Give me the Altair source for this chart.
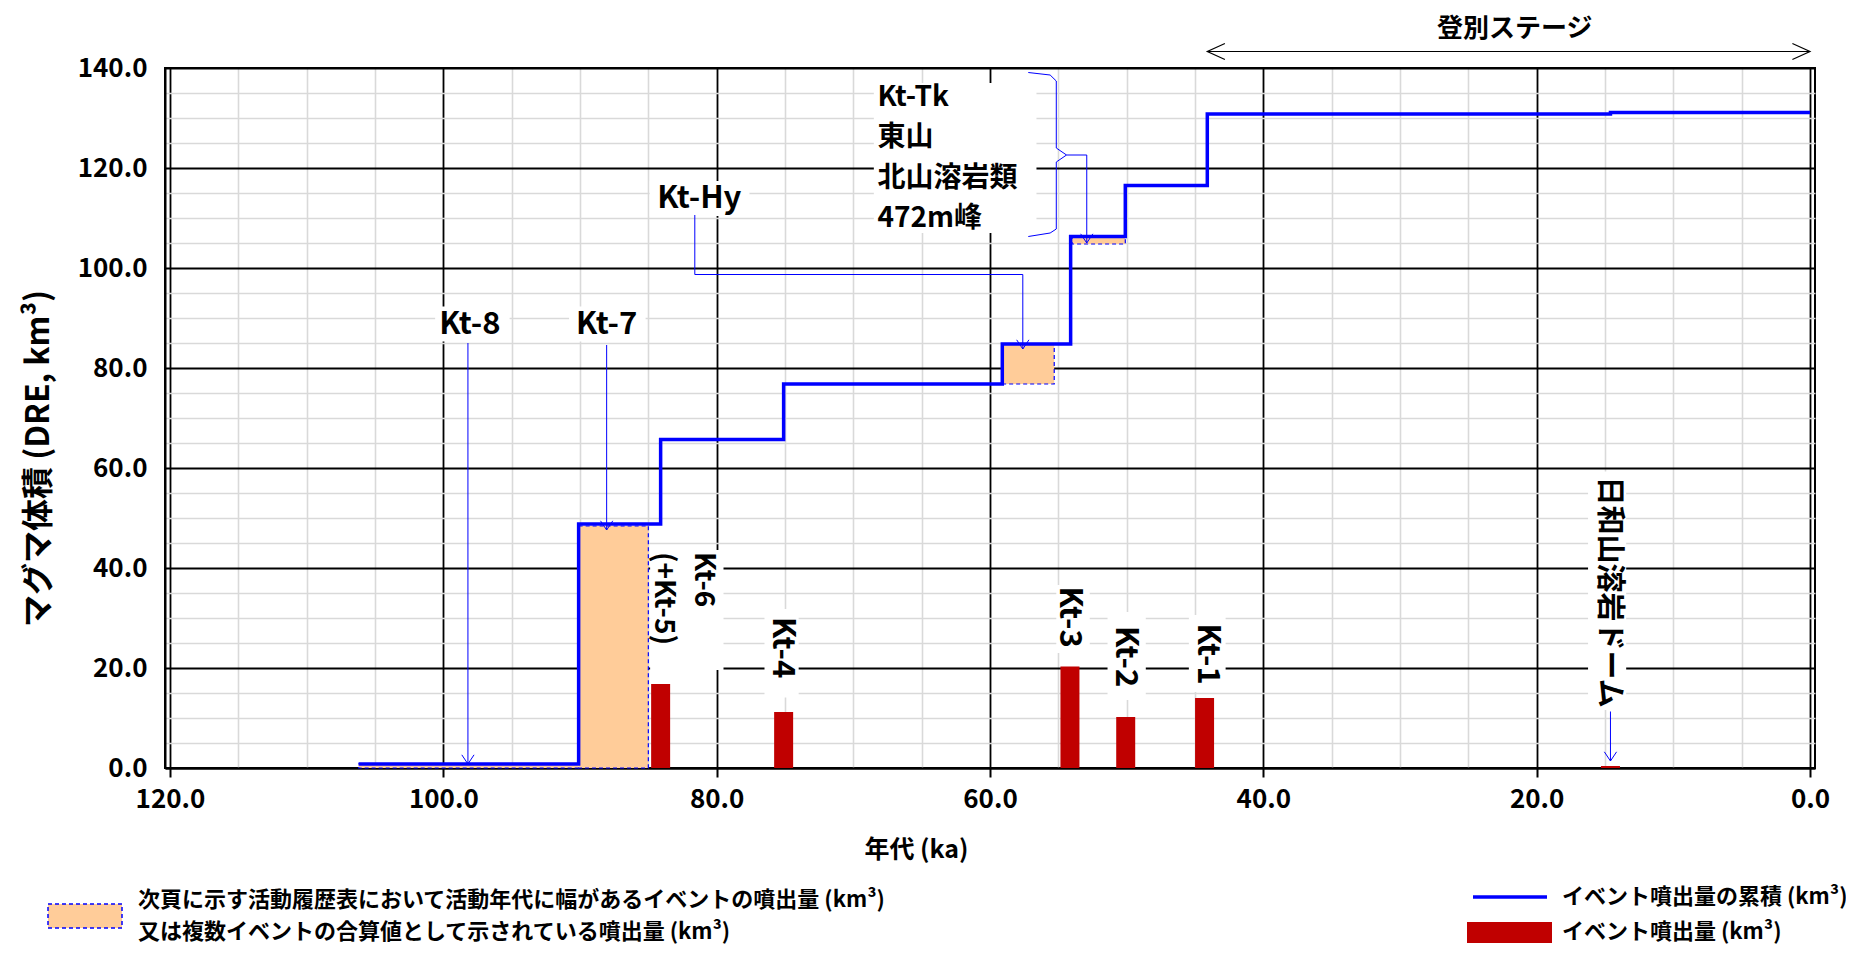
import altair as alt
import pandas as pd

FONT = "Noto Sans CJK JP"
BLUE = "#0000ff"
RED = "#c00000"
ORANGE = "#ffcc99"

# ---- cumulative erupted volume (step line) ----
step_age = [106.2, 90.1, 84.1, 75.1, 59.1, 54.1, 50.1, 44.1, 14.6, 0.0]
step_cum = [0.8, 48.8, 65.7, 76.8, 84.8, 106.3, 116.5, 130.8, 131.1, 131.1]

# ---- single events (red bars) ----
event_name = ["Kt-6", "Kt-4", "Kt-3", "Kt-2", "Kt-1", "日和山溶岩ドーム"]
event_age = [84.1, 75.1, 54.15, 50.07, 44.3, 14.6]
event_vol = [16.8, 11.2, 20.3, 10.2, 14.0, 0.4]

# ---- events with an age range / combined volumes (orange boxes) ----
range_name = ["Kt-8", "Kt-7", "Kt-Hy", "Kt-Tk"]
range_old = [106.2, 90.1, 59.1, 54.0]
range_young = [90.1, 85.0, 55.3, 50.1]
range_low = [0.0, 0.0, 76.8, 104.8]
range_high = [0.8, 48.4, 84.8, 106.3]

# ---- annotation labels ----
flat_label = ["Kt-8", "Kt-7", "Kt-Hy"]
flat_age = [98.06, 88.05, 81.27]
flat_v = [88.6, 88.6, 113.9]

block_label = ["Kt-Tk\n東山\n北山溶岩類\n472m峰"]
block_age = [68.24]
block_v = [134.1]

rot_label = ["Kt-6\n(+Kt-5)", "Kt-4", "Kt-3", "Kt-2", "Kt-1", "日和山溶岩ドーム"]
rot_age = [80.97, 75.24, 54.2, 50.1, 44.1, 14.7]
rot_v = [43.2, 30.2, 36.3, 28.4, 28.9, 58.3]
rot_size = [28, 31, 31, 31, 31, 29]

# white text boxes behind the annotation labels (age old -> young, value top -> bottom)
box_name = ["Kt-8", "Kt-7", "Kt-Hy", "Kt-Tk", "Kt-6", "Kt-4", "Kt-3", "Kt-2", "Kt-1", "日和山"]
box_old = [100.6, 90.8, 84.9, 68.5, 84.87, 76.5, 55.15, 51.4, 45.45, 16.24]
box_young = [95.15, 85.2, 77.6, 56.6, 79.5, 74.0, 52.7, 48.6, 42.76, 13.45]
box_top = [92.3, 92.3, 117.4, 137.0, 43.6, 31.8, 36.6, 31.2, 30.6, 59.3]
box_bottom = [85.3, 85.3, 110.4, 107.0, 19.6, 14.1, 23.0, 13.6, 15.2, 11.6]

# ---- leader arrows ----
arrow_id = ["Kt-8", "Kt-8", "Kt-7", "Kt-7",
            "Kt-Hy", "Kt-Hy", "Kt-Hy", "Kt-Hy",
            "Kt-Tk", "Kt-Tk", "Kt-Tk",
            "日和山", "日和山"]
arrow_age = [98.2, 98.2, 88.05, 88.05,
             81.6, 81.6, 57.6, 57.6,
             54.4, 52.92, 52.92,
             14.6, 14.6]
arrow_v = [85.0, 0.8, 84.6, 47.6,
           110.6, 98.7, 98.7, 83.8,
           122.6, 122.6, 105.0,
           11.3, 1.4]

# ---- brace ----
brace_age = [57.2, 55.6, 55.15, 55.15, 54.4, 55.15, 55.15, 55.6, 57.2]
brace_v = [139.1, 138.6, 137.4, 124.0, 122.6, 121.2, 107.8, 107.0, 106.3]

# ---- stage ----
stage_label = "登別ステージ"
stage_start = 44.1
stage_end = 0.0
stage_v = 143.3
stage_label_age = 21.6
stage_label_v = 147.8

# ---- legend texts ----
legend_range_lines = ["次頁に示す活動履歴表において活動年代に幅があるイベントの噴出量 (km³)",
                      "又は複数イベントの合算値として示されている噴出量 (km³)"]
legend_cum = "イベント噴出量の累積 (km³)"
legend_event = "イベント噴出量 (km³)"

x_title = "年代 (ka)"
y_title = "マグマ体積 (DRE, km³)"

# ---------------- tables ----------------
steps = pd.DataFrame({"age": step_age, "v": step_cum})
events = pd.DataFrame({"name": event_name, "age": event_age, "v": event_vol})
ranges = pd.DataFrame({"name": range_name, "age": range_old, "age2": range_young,
                       "v": range_low, "v2": range_high})
boxes = pd.DataFrame({"name": box_name, "age": box_old, "age2": box_young,
                      "v": box_top, "v2": box_bottom})
arrows = pd.DataFrame({"id": arrow_id, "seq": list(range(len(arrow_id))),
                       "age": arrow_age, "v": arrow_v})
heads = arrows.groupby("id", sort=False).last().reset_index()
brace = pd.DataFrame({"seq": list(range(len(brace_age))), "age": brace_age, "v": brace_v})
stage = pd.DataFrame({"age": [stage_start], "age2": [stage_end], "v": [stage_v]})
stage_text = pd.DataFrame({"label": [stage_label], "age": [stage_label_age], "v": [stage_label_v]})
flat = pd.DataFrame({"label": flat_label, "age": flat_age, "v": flat_v})
block = pd.DataFrame({"label": block_label, "age": block_age, "v": block_v})
rot = pd.DataFrame({"label": rot_label, "age": rot_age, "v": rot_v, "size": rot_size})

# ---------------- scales & axes ----------------
major = "datum.value % 20 === 0"
x_scale = alt.Scale(domain=[0, 120], reverse=True, nice=False, zero=False)
y_scale = alt.Scale(domain=[0, 140], nice=False)

x_axis = alt.Axis(
    values=list(range(0, 121, 5)),
    labelExpr=f"{major} ? format(datum.value, '.1f') : ''",
    grid=True,
    gridColor={"condition": {"test": major, "value": "#000000"}, "value": "#d9d9d9"},
    gridWidth={"condition": {"test": major, "value": 1.8}, "value": 1.6},
    ticks=True, tickColor="#000000", tickWidth=2, tickSize=9,
    tickOpacity={"condition": {"test": major, "value": 1}, "value": 0},
    domain=True, domainColor="#000000", domainWidth=2,
    labelFont=FONT, labelFontSize=26, labelFontWeight="bold", labelColor="#000000",
    labelPadding=9, labelFlush=False, labelOverlap=False,
    title=x_title, titleFont=FONT, titleFontSize=25, titleFontWeight="bold",
    titleColor="#000000", titleX=751, titleY=81, titleAlign="center",
    titleBaseline="middle", titleAngle=0,
)
y_axis = alt.Axis(
    values=list(range(0, 141, 5)),
    labelExpr=f"{major} ? format(datum.value, '.1f') : ''",
    grid=True,
    gridColor={"condition": {"test": major, "value": "#000000"}, "value": "#d9d9d9"},
    gridWidth={"condition": {"test": major, "value": 1.8}, "value": 1.6},
    ticks=False, tickSize=0,
    domain=True, domainColor="#000000", domainWidth=2,
    labelFont=FONT, labelFontSize=26, labelFontWeight="bold", labelColor="#000000",
    labelPadding=18, labelFlush=False, labelOverlap=False,
    title=y_title, titleFont=FONT, titleFontSize=32, titleFontWeight="bold",
    titleColor="#000000", titleX=-127, titleY=390, titleAlign="center",
    titleBaseline="middle", titleAngle=270,
)

X = lambda: alt.X("age:Q", scale=x_scale, axis=x_axis)
Y = lambda: alt.Y("v:Q", scale=y_scale, axis=y_axis)

layers = []

# orange range boxes
layers.append(alt.Chart(ranges).mark_rect(
    fill=ORANGE, stroke=BLUE, strokeDash=[4, 3], strokeWidth=1.2
).encode(x=X(), x2="age2:Q", y=Y(), y2="v2:Q"))

# white label boxes
layers.append(alt.Chart(boxes).mark_rect(fill="#ffffff", strokeWidth=0).encode(
    x=X(), x2="age2:Q", y=Y(), y2="v2:Q"))

# red bars
layers.append(alt.Chart(events).mark_bar(color=RED, size=19).encode(x=X(), y=Y()))

# cumulative step line
layers.append(alt.Chart(steps).mark_line(
    color=BLUE, strokeWidth=3.5, interpolate="step-after"
).encode(x=X(), y=Y(), order=alt.Order("age:Q", sort="descending")))

# leader arrows
layers.append(alt.Chart(arrows).mark_line(color=BLUE, strokeWidth=1).encode(
    x=X(), y=Y(), detail="id:N", order="seq:Q"))
layers.append(alt.Chart(heads).mark_point(
    shape="M-1,-1.5L0,0L1,-1.5", filled=False, stroke=BLUE, strokeWidth=1,
    size=150, opacity=1
).encode(x=X(), y=Y()))

# brace
layers.append(alt.Chart(brace).mark_line(color=BLUE, strokeWidth=1).encode(
    x=X(), y=Y(), order="seq:Q"))

# stage double arrow
layers.append(alt.Chart(stage).mark_rule(color="#000000", strokeWidth=1.2).encode(
    x=X(), x2="age2:Q", y=Y()))
layers.append(alt.Chart(stage).mark_point(
    shape="M2.2,-1L0,0L2.2,1", filled=False, stroke="#000000", strokeWidth=1.2,
    size=256, opacity=1
).encode(x=X(), y=Y()))
layers.append(alt.Chart(stage).mark_point(
    shape="M-2.2,-1L0,0L-2.2,1", filled=False, stroke="#000000", strokeWidth=1.2,
    size=256, opacity=1
).encode(x=alt.X("age2:Q", scale=x_scale, axis=x_axis), y=Y()))
layers.append(alt.Chart(stage_text).mark_text(
    font=FONT, fontSize=26, fontWeight="bold", color="#000000",
    align="center", baseline="middle"
).encode(x=X(), y=Y(), text="label:N"))

# annotation labels
def label_layer(df, **kw):
    enc = dict(x=X(), y=Y(), text="label:N")
    if "size" in df.columns:
        enc["size"] = alt.Size("size:Q", scale=None, legend=None)
    return alt.Chart(df).mark_text(
        font=FONT, fontWeight="bold", lineBreak="\n", color="#000000", **kw
    ).encode(**enc)

layers.append(label_layer(flat, fontSize=31, align="center", baseline="middle"))
layers.append(label_layer(block, fontSize=28, align="left", baseline="middle", lineHeight=40.6))
layers.append(label_layer(rot, align="left", baseline="middle", angle=90, lineHeight=40.6))

# ---------------- legend (outside plot) ----------------
one = pd.DataFrame({"k": [0]})
layers.append(alt.Chart(one).mark_rect(
    fill=ORANGE, stroke=BLUE, strokeDash=[4, 3], strokeWidth=1.5
).encode(x=alt.value(-117), x2=alt.value(-43), y=alt.value(836), y2=alt.value(860)))
layers.append(alt.Chart(one).mark_text(
    font=FONT, fontSize=22, fontWeight="bold", color="#000000", align="left",
    baseline="middle", lineBreak="\n", lineHeight=32
).encode(x=alt.value(-27), y=alt.value(832), text=alt.value("\n".join(legend_range_lines))))

layers.append(alt.Chart(one).mark_rule(color=BLUE, strokeWidth=3.5).encode(
    x=alt.value(1308), x2=alt.value(1382), y=alt.value(829)))
layers.append(alt.Chart(one).mark_text(
    font=FONT, fontSize=22, fontWeight="bold", color="#000000", align="left",
    baseline="middle"
).encode(x=alt.value(1397), y=alt.value(829), text=alt.value(legend_cum)))
layers.append(alt.Chart(one).mark_rect(fill=RED).encode(
    x=alt.value(1302), x2=alt.value(1387), y=alt.value(854), y2=alt.value(875)))
layers.append(alt.Chart(one).mark_text(
    font=FONT, fontSize=22, fontWeight="bold", color="#000000", align="left",
    baseline="middle"
).encode(x=alt.value(1397), y=alt.value(864), text=alt.value(legend_event)))

chart = alt.layer(*layers).properties(
    width=1650, height=700,
    padding={"left": 157, "top": 60, "right": 31, "bottom": 181},
    autosize=alt.AutoSizeParams(type="none"),
).configure_view(stroke="#000000", strokeWidth=2)

chart.save("out.html", embed_options={"renderer": "svg", "actions": False})
